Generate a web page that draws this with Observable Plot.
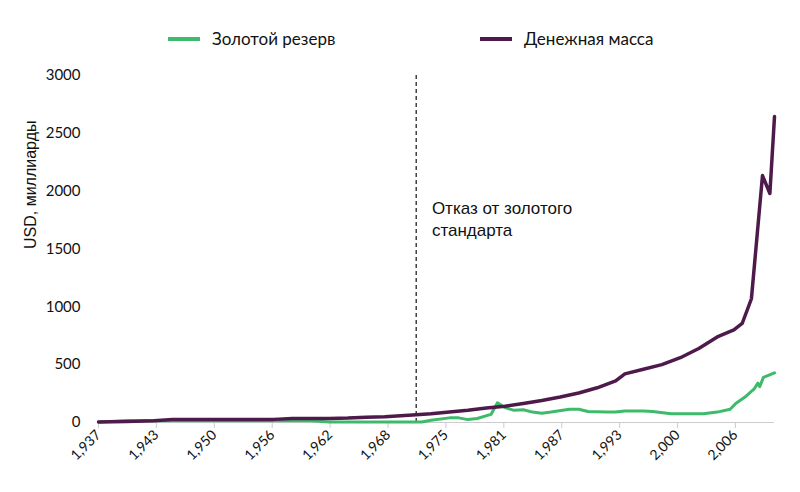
<!DOCTYPE html>
<html><head><meta charset="utf-8">
<script src="https://cdn.jsdelivr.net/npm/d3@7"></script>
<script src="https://cdn.jsdelivr.net/npm/@observablehq/plot@0.6"></script>
<style>
body{margin:0;background:#fff;font-family:Lato,"Open Sans",sans-serif}
#legend{height:60px;position:relative;font-size:17px;color:#111}
.item{position:absolute;top:28px;display:flex;align-items:center}
.sw{width:32px;height:4px;margin-right:12px}
</style></head><body>
<div id="legend">
<div class="item" style="left:168px"><div class="sw" style="background:#3dbb6a"></div>Золотой резерв</div>
<div class="item" style="left:480px"><div class="sw" style="background:#4e1a4b"></div>Денежная масса</div>
</div>
<div id="chart"></div>
<script>
const moneyYears = [1937,1940,1943,1945,1950,1956,1958,1962,1964,1966,1968,1971,1973,1975,1977,1979,1981,1983,1985,1987,1989,1991,1993,1994,1996,1998,2000,2002,2004,2005.8,2006.7,2007.7,2008.9,2009.7,2010.2];
const moneyVals  = [5,8,15,25,25,27,35,35,38,45,50,65,75,90,105,125,140,165,190,220,255,300,360,420,460,500,560,640,740,800,856,1070,2135,1980,2645];
const goldYears = [1937,1940,1950,1958,1960,1962,1966,1971,1972,1973,1975,1976,1977,1978,1979.5,1980.2,1981,1982,1983,1984,1985,1986,1988,1989,1990,1992,1993,1994,1996,1997,1999,2001,2002.5,2004,2005.4,2006,2007,2008,2008.4,2008.6,2009,2009.6,2010.2];
const goldVals  = [5,15,15,15,15,5,5,5,5,20,40,40,25,35,70,170,130,105,110,90,80,90,115,115,95,90,90,100,100,95,75,75,75,90,115,165,220,290,340,310,390,410,430];
const tickYears = [1937,1943,1950,1956,1962,1968,1975,1981,1987,1993,2000,2006];
const yTicks = [0,500,1000,1500,2000,2500,3000];
const gold = goldYears.map((y,i)=>({year:y,v:goldVals[i]}));
const money = moneyYears.map((y,i)=>({year:y,v:moneyVals[i]}));
const tickPos = tickYears.map((y,i)=>1937+i*6.27);
const chart = Plot.plot({
  width:800,height:432,marginTop:15,marginBottom:70,marginLeft:98,marginRight:26,
  style:{fontFamily:"Lato,'Open Sans',sans-serif",fontSize:"15px",color:"#111"},
  x:{domain:[1937,2010.2]},
  y:{domain:[0,3000]},
  marks:[
    Plot.ruleY([0],{stroke:"#ccc"}),
    Plot.axisY({ticks:yTicks,tickFormat:d3.format("d"),tickSize:0,tickPadding:18,label:null,fontSize:15}),
    Plot.text(["USD, миллиарды"],{frameAnchor:"left",dx:-68,rotate:-90,fontSize:16,fontFamily:"'Liberation Sans',sans-serif"}),
    Plot.axisX({ticks:tickPos,tickFormat:d=>tickYears[tickPos.indexOf(d)],tickRotate:-45,tickSize:6,stroke:"#ccc",tickPadding:4,textAnchor:"end",label:null,fontSize:14}),
    Plot.ruleX([1971.4],{stroke:"#111",strokeDasharray:"4,3",strokeWidth:1.2}),
    Plot.text(["Отказ от золотого\nстандарта"],{x:1973.1,y:1770,textAnchor:"start",lineHeight:1.3,fontSize:17,fontFamily:"'Liberation Sans',sans-serif"}),
    Plot.line(gold,{x:"year",y:"v",stroke:"#3dbb6a",strokeWidth:3}),
    Plot.line(money,{x:"year",y:"v",stroke:"#4e1a4b",strokeWidth:3.5})
  ]
});
document.getElementById("chart").append(chart);
</script></body></html>
